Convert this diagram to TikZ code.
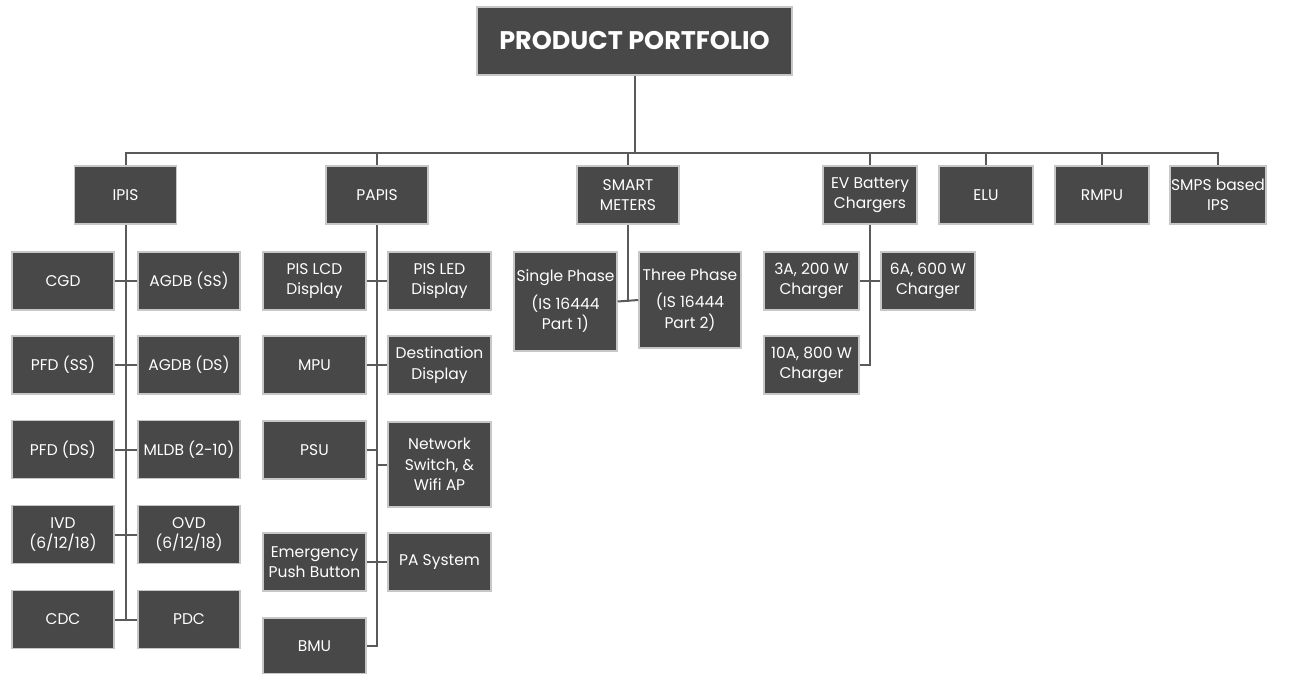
\documentclass[tikz,border=0pt]{standalone}
\usepackage{fontspec}
\setmainfont{Poppins}
\definecolor{boxgray}{RGB}{72,72,72}
\definecolor{wiregray}{RGB}{90,90,90}
\begin{document}
\begin{tikzpicture}[x=1pt,y=-1pt]
\tikzset{
    box/.style={draw=black!22, line width=1.5pt, fill=boxgray, text=white, align=center,
        inner sep=1pt, minimum width=102pt, minimum height=58pt, font=\fontsize{15.5}{20.5}\selectfont},
    title/.style={box, minimum width=315pt, minimum height=68pt, font=\fontsize{25.5}{30}\selectfont\bfseries},
    wire/.style={draw=wiregray, line width=2pt},
}
\useasboundingbox (0,0) rectangle (1315,674);
\coordinate (bus) at (0,153); % height of the long bar

% Top and the first row of boxes.
\node[title] (pp) at (634.5,41) {PRODUCT PORTFOLIO};
\node[box] (ipis)  at (125.5,195) {IPIS};
\node[box] (papis) at (377,195)   {PAPIS};
\node[box] (smart) at (628,195)   {SMART\\METERS};
\node[box, minimum width=94pt] (ev)   at (870,195)  {EV Battery\\Chargers};
\node[box, minimum width=94pt] (elu)  at (986,195)  {ELU};
\node[box, minimum width=94pt] (rmpu) at (1102,195) {RMPU};
\node[box, minimum width=94pt] (smps) at (1218,195) {SMPS based\\IPS};

% IPIS family, two columns.
\node[box] (cgd)    at (63,281)    {CGD};
\node[box] (agdbss) at (189,281)   {AGDB (SS)};
\node[box] (pfdss)  at (63,365)    {PFD (SS)};
\node[box] (agdbds) at (189,365)   {AGDB (DS)};
\node[box] (pfdds)  at (63,449.5)  {PFD (DS)};
\node[box] (mldb)   at (189,449.5) {MLDB (2-10)};
\node[box] (ivd)    at (63,534.5)  {IVD\\(6/12/18)};
\node[box] (ovd)    at (189,534.5) {OVD\\(6/12/18)};
\node[box] (cdc)    at (63,619.5)  {CDC};
\node[box] (pdc)    at (189,619.5) {PDC};

% PAPIS family.
\node[box, minimum width=103pt] (lcd)    at (314.5,281) {PIS LCD\\Display};
\node[box, minimum width=103pt] (led)    at (439.5,281) {PIS LED\\Display};
\node[box, minimum width=103pt] (mpu)    at (314.5,365) {MPU};
\node[box, minimum width=103pt] (dest)   at (439.5,365) {Destination\\Display};
\node[box, minimum width=103pt] (psu)    at (314.5,450) {PSU};
\node[box, minimum width=103pt, minimum height=85pt] (netsw) at (439.5,464.5) {Network\\Switch, \&\\Wifi AP};
\node[box, minimum width=103pt] (epb)    at (314.5,562) {Emergency\\Push Button};
\node[box, minimum width=103pt] (pasys)  at (439.5,562) {PA System};
\node[box, minimum width=103pt, minimum height=56pt] (bmu) at (314.5,646) {BMU};

% Smart meters.
\node[box, minimum width=103pt, minimum height=99pt] (single) at (565.5,301.5) {Single Phase\\[7pt](IS 16444\\Part 1)};
\node[box, minimum height=96pt] (three) at (690,300) {Three Phase\\[7pt](IS 16444\\Part 2)};

% EV chargers.
\node[box, minimum width=95pt] (cthree) at (811.5,281) {3A, 200 W\\Charger};
\node[box, minimum width=94pt] (csix)   at (928,281)   {6A, 600 W\\Charger};
\node[box, minimum width=95pt] (cten)   at (811.5,365) {10A, 800 W\\Charger};

% Long bar and the drops.
\draw[wire] (pp.south) -- (pp.south |- bus);
\draw[wire] (ipis.north) -- (ipis.north |- bus) -- (smps.north |- bus) -- (smps.north);
\draw[wire] (papis.north) -- (papis.north |- bus);
\draw[wire] (smart.north) -- (smart.north |- bus);
\draw[wire] (ev.north) -- (ev.north |- bus);
\draw[wire] (elu.north) -- (elu.north |- bus);
\draw[wire] (rmpu.north) -- (rmpu.north |- bus);

% Spines and ticks.
\draw[wire] (ipis.south) -- (ipis.south |- cdc.east);
\draw[wire] (cgd.east) -- (agdbss.west);
\draw[wire] (pfdss.east) -- (agdbds.west);
\draw[wire] (pfdds.east) -- (mldb.west);
\draw[wire] (ivd.east) -- (ovd.west);
\draw[wire] (cdc.east) -- (pdc.west);

\draw[wire] (papis.south) |- (bmu.east);
\draw[wire] (lcd.east) -- (led.west);
\draw[wire] (mpu.east) -- (dest.west);
\draw[wire] (psu.east) -- (psu.east -| papis.south);
\draw[wire] (netsw.west) -- (netsw.west -| papis.south);
\draw[wire] (epb.east) -- (pasys.west);

\draw[wire] (smart.south) -- (smart.south |- single.east);
\draw[wire] (single.east) -- (three.west);

\draw[wire] (ev.south) |- (cten.east);
\draw[wire] (cthree.east) -- (csix.west);
\end{tikzpicture}
\end{document}
